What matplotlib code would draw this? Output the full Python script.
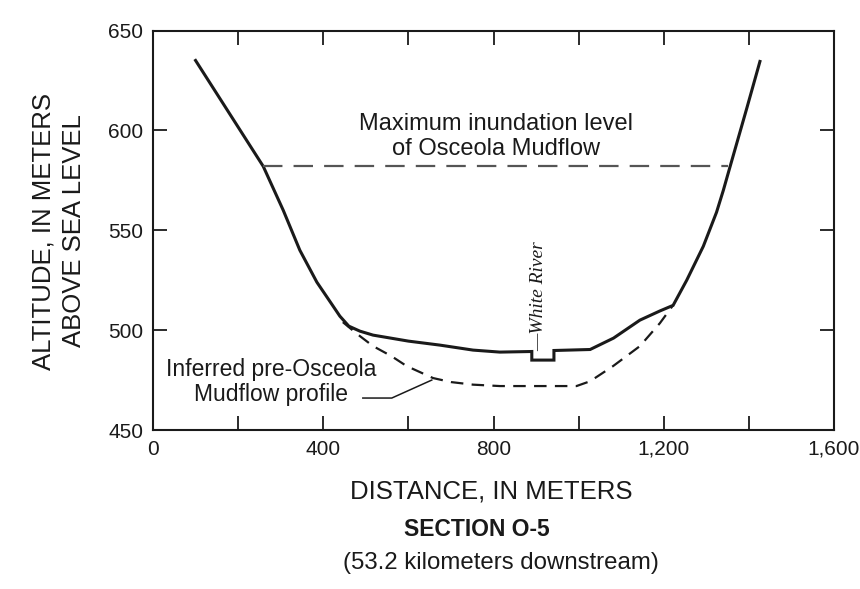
import matplotlib
matplotlib.use("Agg")
import matplotlib.pyplot as plt
from matplotlib.ticker import FixedLocator, FuncFormatter

# Cross-section O-5, White River valley
# distance (m) / altitude (m) of the present valley floor
floor_x = [100, 205, 259, 275, 306, 345, 385, 420, 439, 460, 486, 517,
           600, 674, 752, 815, 890, 890, 942, 942, 1027, 1082, 1144, 1191, 1222,
           1254, 1293, 1324, 1340, 1352, 1395, 1426]
floor_y = [635, 600, 582, 574.5, 560, 540, 524, 513, 507, 502, 499.5, 497.5,
           494.5, 492.5, 490, 489, 489.3, 485, 485, 489.8, 490.3, 496, 505, 509.6, 512.4,
           525, 542, 559, 570, 579, 611, 634.5]

# inferred pre-Osceola Mudflow profile
pre_x = [446, 480, 517, 560, 596, 658, 700, 752, 815, 900, 995, 1027, 1081, 1144, 1191, 1222]
pre_y = [504, 498, 492, 487, 482, 476, 474, 472.7, 472, 472, 472, 474.4, 482, 492, 503.5, 512.5]

# maximum inundation level of the mudflow
flood_x = [259, 1352]
flood_y = [582, 582]

# leader from the label to the dashed profile
leader_x = [493, 561, 655]
leader_y = [466, 466, 475]

x_ticks = [0, 200, 400, 600, 800, 1000, 1200, 1400, 1600]
x_labels = {0: "0", 400: "400", 800: "800", 1200: "1,200", 1600: "1,600"}
y_ticks = [450, 500, 550, 600, 650]

plt.rcParams["font.family"] = ["Liberation Sans", "DejaVu Sans"]
plt.rcParams["lines.scale_dashes"] = False
ink = "#1a1a1a"

W, H = 860, 589
fig = plt.figure(figsize=(W / 100, H / 100), dpi=100)
ax = fig.add_axes([153 / W, 1 - 430 / H, 681 / W, 399.5 / H])

ax.plot(floor_x, floor_y, color=ink, lw=2.2, solid_joinstyle="miter")
ax.plot(pre_x, pre_y, color=ink, lw=1.6, dashes=(9, 6))
ax.plot(flood_x, flood_y, color="#555555", lw=1.6, dashes=(14, 8))
ax.plot(leader_x, leader_y, color=ink, lw=1.1)

ax.set_xlim(0, 1600)
ax.set_ylim(450, 650)

ax.xaxis.set_major_locator(FixedLocator(x_ticks))
ax.xaxis.set_major_formatter(FuncFormatter(lambda v, p: x_labels.get(int(round(v)), "")))
ax.yaxis.set_major_locator(FixedLocator(y_ticks))
ax.tick_params(direction="in", length=10, width=1.3, top=True, right=True,
               labelsize=15, colors=ink, pad=7)
for s in ax.spines.values():
    s.set_linewidth(1.5)
    s.set_color(ink)

ax.text(806, 597, "Maximum inundation level\nof Osceola Mudflow", ha="center", va="center",
        fontsize=17, color=ink, linespacing=1.2)
ax.text(277, 474, "Inferred pre-Osceola\nMudflow profile", ha="center", va="center",
        fontsize=16.5, color=ink, linespacing=1.15)
ax.text(905, 489.5, "\u2014White River", rotation=90, ha="center", va="bottom",
        fontsize=14, color=ink, family="Liberation Serif", style="italic")

# axis titles and section caption
fig.text(59 / W, 1 - 231 / H, "ALTITUDE, IN METERS\nABOVE SEA LEVEL", rotation=90,
         ha="center", va="center", fontsize=18.5, color=ink, linespacing=1.35)
fig.text(491 / W, 1 - 492 / H, "DISTANCE, IN METERS", ha="center", va="center",
         fontsize=18.5, color=ink)
fig.text(477 / W, 1 - 530 / H, "SECTION O-5", ha="center", va="center",
         fontsize=16.5, fontweight="bold", color=ink)
fig.text(501 / W, 1 - 563 / H, "(53.2 kilometers downstream)", ha="center", va="center",
         fontsize=17.3, color=ink)

fig.savefig("out.png", dpi=100)
